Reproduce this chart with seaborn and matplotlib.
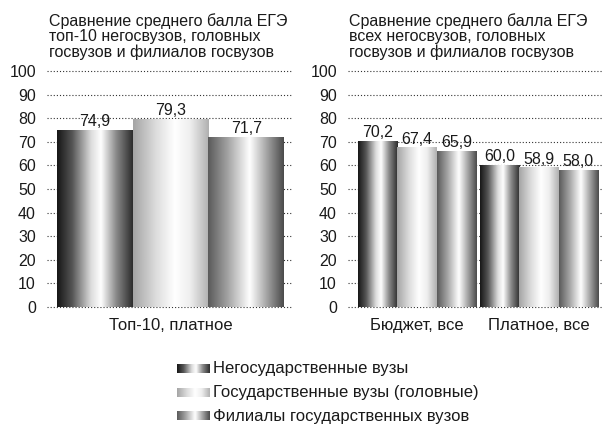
import numpy as np
import pandas as pd
import matplotlib
matplotlib.use("Agg")
import matplotlib.pyplot as plt
from matplotlib.colors import LinearSegmentedColormap
import seaborn as sns

# ---- data ----
series = ["Негосударственные вузы", "Государственные вузы (головные)",
          "Филиалы государственных вузов"]
cats_left = ["Топ-10, платное"]
left_vals = [74.9, 79.3, 71.7]           # one value per series
cats_right = ["Бюджет, все", "Платное, все"]
right_nonstate = [70.2, 60.0]
right_state = [67.4, 58.9]
right_branch = [65.9, 58.0]
yticks = [0, 10, 20, 30, 40, 50, 60, 70, 80, 90, 100]
title_left = "Сравнение среднего балла ЕГЭ\nтоп-10 негосвузов, головных\nгосвузов и филиалов госвузов"
title_right = "Сравнение среднего балла ЕГЭ\nвсех негосвузов, головных\nгосвузов и филиалов госвузов"

df_left = pd.DataFrame({"cat": cats_left * 3, "series": series, "val": left_vals})
df_right = pd.DataFrame({
    "cat": cats_right * 3,
    "series": [series[0]] * 2 + [series[1]] * 2 + [series[2]] * 2,
    "val": right_nonstate + right_state + right_branch,
})

# ---- style ----
sns.set_style("white")
plt.rcParams["font.family"] = ["Liberation Sans", "DejaVu Sans"]
FS = 11.5
FS_CAT = 12
TXT = "#1a1a1a"

grad_stops = [
    [(0.0, "#161616"), (0.2, "#555555"), (0.45, "#dddddd"), (0.58, "#ffffff"),
     (0.78, "#8a8a8a"), (1.0, "#2c2c2c")],
    [(0.0, "#a4a4a4"), (0.3, "#dcdcdc"), (0.55, "#ffffff"), (0.75, "#efefef"),
     (1.0, "#b0b0b0")],
    [(0.0, "#5a5a5a"), (0.25, "#a0a0a0"), (0.55, "#ffffff"), (0.8, "#9a9a9a"),
     (1.0, "#4a4a4a")],
]
cmaps = [LinearSegmentedColormap.from_list(f"g{i}", s) for i, s in enumerate(grad_stops)]
gradient = np.linspace(0, 1, 256).reshape(1, -1)

fig = plt.figure(figsize=(6.05, 4.25), dpi=100)
W, H = 605, 425


def panel(rect_px, data, width, xlim, title, title_x):
    x0, x1, ytop, ybot = rect_px
    ax = fig.add_axes([x0 / W, (H - ybot) / H, (x1 - x0) / W, (ybot - ytop) / H])
    sns.barplot(data=data, x="cat", y="val", hue="series", hue_order=series,
                width=width, dodge=True, palette=["#000000"] * 3, ax=ax,
                legend=False, errorbar=None, zorder=3, linewidth=0)
    for i, cont in enumerate(ax.containers):
        for p in cont.patches:
            bx, by, bw, bh = p.get_x(), p.get_y(), p.get_width(), p.get_height()
            p.set_visible(False)
            ax.imshow(gradient, extent=[bx, bx + bw, by, by + bh], aspect="auto",
                      cmap=cmaps[i], zorder=3, interpolation="bicubic")
        labels = [f"{v:.1f}".replace(".", ",") for v in cont.datavalues]
        ax.bar_label(cont, labels=labels, padding=1, fontsize=FS, color=TXT,
                     zorder=5)
    ax.set_xlim(*xlim)
    ax.set_ylim(0, 100)
    ax.set_yticks(yticks)
    ax.set_yticklabels([str(t) for t in yticks], fontsize=FS, color=TXT)
    ax.tick_params(axis="y", length=0, pad=8)
    ax.tick_params(axis="x", length=0, pad=8, labelsize=FS_CAT, colors=TXT)
    for t in yticks:
        ax.axhline(t, color="#333333", lw=0.8, ls=(0, (1, 1.8)), zorder=1, clip_on=False)
    for s in ax.spines.values():
        s.set_visible(False)
    ax.set_xlabel("")
    ax.set_ylabel("")
    fig.text(title_x / W, (H - 13) / H, title, fontsize=FS, va="top", ha="left",
             color=TXT, linespacing=1.02)
    return ax


# left: bars span 57..284 px
panel((47, 292, 71, 307), df_left, 1.0, (-0.544, 0.535), title_left, 49)
# right: groups centred at 417 and 539 px, spacing 122 px
panel((348, 602, 71, 307), df_right, 0.967, (-0.566, 1.516), title_right, 349)

# ---- legend ----
lax = fig.add_axes([0, 0, 1, 1])
lax.set_xlim(0, W)
lax.set_ylim(H, 0)
lax.axis("off")
rows_y = [369, 393, 416]
for i, (name, yy) in enumerate(zip(series, rows_y)):
    lax.imshow(gradient, extent=[177, 210, yy + 4.5, yy - 4.5], aspect="auto",
               cmap=cmaps[i], interpolation="bicubic")
    lax.text(213, yy, name, fontsize=FS_CAT, va="center", ha="left", color=TXT)
lax.set_xlim(0, W)
lax.set_ylim(H, 0)

fig.savefig("out.png", dpi=100)
